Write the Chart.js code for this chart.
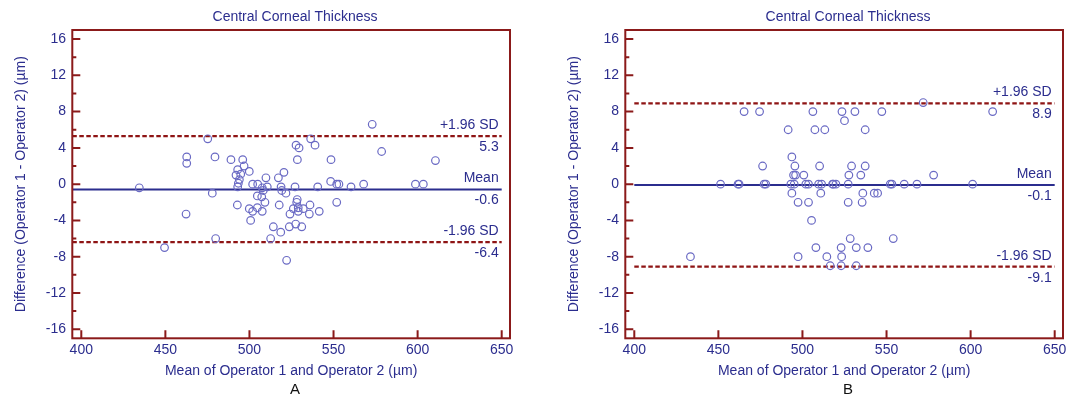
<!DOCTYPE html>
<html>
<head>
<meta charset="utf-8">
<script src="https://cdn.jsdelivr.net/npm/chart.js@4.4.1/dist/chart.umd.min.js"></script>
<style>
  html, body { margin: 0; padding: 0; background: #fff; overflow: hidden; }
  #wrap { position: relative; width: 1077px; height: 399px; overflow: hidden; }
  canvas { position: absolute; top: 0; }
  #chart-a { left: 0; }
  #chart-b { left: 553px; }
</style>
</head>
<body>
<div id="wrap">
  <canvas id="chart-a" width="590" height="399"></canvas>
  <canvas id="chart-b" width="590" height="399"></canvas>
</div>
<script>
const xTicks = [400, 450, 500, 550, 600, 650];
const yTicks = [-16, -12, -8, -4, 0, 4, 8, 12, 16];
const yMinorTicks = [-14, -10, -6, -2, 2, 6, 10, 14];
const limitLabels = ['+1.96 SD', 'Mean', '-1.96 SD'];
const limitsA = [5.3, -0.6, -6.4];
const limitsB = [8.9, -0.1, -9.1];

// panel A: mean of the two operators vs difference
const meanA = [434.5, 449.5, 462.7, 462.7, 462.3, 475.2, 477.9, 479.5, 479.9, 489, 492, 493, 493.4, 493, 492.8,
  494, 494.8, 496, 496.8, 499.9, 499.9, 500.7, 501.9, 501.9, 504.7, 504.7, 504.9, 507.3, 507.6, 507.6,
  508.2, 509.2, 509.8, 510.6, 512.6, 514.2, 517.2, 517.7, 518.6, 518.8, 519.2, 520.5, 521.7, 522.1, 523.7,
  524.1, 526.1, 527.1, 527.5, 527.7, 528.1, 528.4, 528.5, 529, 529, 529.5, 531.1, 532, 535.6, 536,
  536.4, 539, 540.6, 541.5, 548.3, 548.5, 551.9, 551.9, 553.2, 560.4, 567.9, 573, 578.6, 598.7, 603.4, 610.6];
const diffA = [-0.4, -7.0, 3.0, 2.3, -3.3, 5.0, -1.0, 3.0, -6.0, 2.7, 1.0, 1.6, 0.1, -0.3, -2.3,
  0.5, 1.1, 2.7, 2.0, 1.4, -2.7, -4.0, 0, -3.0, -1.3, -2.6, 0, -1.4, -0.4, -3.0,
  -0.7, -2.0, 0.7, -0.3, -6.0, -4.7, 0.7, -2.3, -5.3, -0.3, -0.7, 1.3, -1.0, -8.4, -4.7,
  -3.3, -2.7, -0.3, -4.4, 4.3, -2.0, -1.7, 2.7, -2.6, -3.0, 4.0, -4.7, -2.7, -3.3, -2.3,
  5.0, 4.3, -0.3, -3.0, 0.3, 2.7, 0, -2.0, 0, -0.3, 0, 6.6, 3.6, 0, 0, 2.6];

// panel B
const meanB = [571.8,
  465.3, 474.5, 506.2, 523.5, 531.2, 547.2, 613.1,
  525.0,
  491.5, 507.4, 513.3, 537.3,
  493.7,
  476.3, 495.5, 510.2, 529.2, 537.3,
  494.7, 495.9, 500.8, 527.6, 534.7, 578.0,
  451.3, 461.7, 462.3, 477.2, 478.2, 493.1, 495.1, 502, 503.6, 509.6, 511.4, 517.9, 518.3, 519.9, 527.2, 552.2, 553.2, 560.5, 568.1, 601.2,
  493.7, 510.9, 535.9, 542.7, 544.7,
  497.4, 503.6, 527.2, 535.5,
  505.4,
  528.4, 554,
  508, 523, 532, 538.9,
  433.4, 497.4, 514.5, 523.3,
  516.5, 523, 532];
const diffB = [9,
  8, 8, 8, 8, 8, 8, 8,
  7,
  6, 6, 6, 6,
  3,
  2, 2, 2, 2, 2,
  1, 1, 1, 1, 1, 1,
  0, 0, 0, 0, 0, 0, 0, 0, 0, 0, 0, 0, 0, 0, 0, 0, 0, 0, 0, 0,
  -1, -1, -1, -1, -1,
  -2, -2, -2, -2,
  -4,
  -6, -6,
  -7, -7, -7, -7,
  -8, -8, -8, -8,
  -9, -9, -9];

const NAVY = '#2b2d8e';
const FRAME = '#8b1a1a';
const DASH = '#8e1414';
const POINT = '#6a6ac4';
const FONT = "'Liberation Sans', Arial, sans-serif";

const frameTicks = {
  id: 'frameTicks',
  afterDraw(chart) {
    const { ctx, chartArea: a, scales: { x, y } } = chart;
    ctx.save();
    ctx.strokeStyle = FRAME;
    ctx.lineWidth = 2;
    ctx.beginPath();
    yTicks.forEach(v => {
      const py = y.getPixelForValue(v);
      ctx.moveTo(a.left, py);
      ctx.lineTo(a.left + 8, py);
    });
    yMinorTicks.forEach(v => {
      const py = y.getPixelForValue(v);
      ctx.moveTo(a.left, py);
      ctx.lineTo(a.left + 4, py);
    });
    xTicks.forEach(v => {
      const px = x.getPixelForValue(v);
      ctx.moveTo(px, a.bottom);
      ctx.lineTo(px, a.bottom - 8);
    });
    ctx.stroke();
    ctx.strokeRect(a.left, a.top, a.right - a.left, a.bottom - a.top);
    ctx.restore();
  }
};

const limitText = {
  id: 'limitText',
  afterDatasetsDraw(chart, args, opts) {
    const { ctx, scales: { x, y } } = chart;
    const px = x.getPixelForValue(650) - 3;
    ctx.save();
    ctx.font = '14px ' + FONT;
    ctx.fillStyle = NAVY;
    ctx.textAlign = 'right';
    ctx.textBaseline = 'middle';
    opts.limits.forEach((v, i) => {
      const py = y.getPixelForValue(v);
      ctx.fillText(limitLabels[i], px, py - 11);
      ctx.fillText(v.toFixed(1), px, py + 11);
    });
    ctx.restore();
  }
};

function makeChart(id, means, diffs, limits, lineStart, letter) {
  const points = means.map((m, i) => ({ x: m, y: diffs[i] }));
  const lineSets = limits.map((v, i) => ({
    type: 'line',
    data: [{ x: lineStart, y: v }, { x: 650, y: v }],
    borderColor: i === 1 ? NAVY : DASH,
    borderWidth: i === 1 ? 2 : 2.2,
    borderDash: i === 1 ? [] : [4.5, 2.5],
    pointRadius: 0,
    fill: false
  }));

  return new Chart(document.getElementById(id), {
    type: 'scatter',
    data: {
      datasets: [{
        data: points,
        pointStyle: 'circle',
        pointRadius: 3.8,
        pointHoverRadius: 3.8,
        pointBorderWidth: 1.2,
        pointBorderColor: POINT,
        pointBackgroundColor: 'rgba(0,0,0,0)'
      }, ...lineSets]
    },
    options: {
      responsive: false,
      animation: false,
      events: [],
      layout: { padding: 0 },
      plugins: {
        legend: { display: false },
        tooltip: { enabled: false },
        title: {
          display: true,
          text: 'Central Corneal Thickness',
          color: NAVY,
          font: { family: FONT, size: 14, weight: 'normal' },
          padding: { top: 8.6, bottom: 4.6 }
        },
        subtitle: {
          display: true,
          position: 'bottom',
          text: letter,
          color: '#111',
          font: { family: FONT, size: 15, weight: 'normal' },
          padding: 0
        },
        limitText: { limits: limits }
      },
      scales: {
        x: {
          type: 'linear',
          min: 394.65,
          max: 654.94,
          afterBuildTicks: s => { s.ticks = xTicks.map(v => ({ value: v })); },
          afterFit: s => { s.height = 42.7; },
          grid: { display: false, drawTicks: false },
          border: { display: false },
          ticks: {
            color: NAVY,
            font: { family: FONT, size: 14 },
            padding: 3.3,
            autoSkip: false,
            maxRotation: 0
          },
          title: {
            display: true,
            text: 'Mean of Operator 1 and Operator 2 (µm)',
            color: NAVY,
            font: { family: FONT, size: 14 },
            padding: { top: 0, bottom: 1.1 }
          }
        },
        y: {
          type: 'linear',
          min: -17,
          max: 17,
          afterBuildTicks: s => { s.ticks = yTicks.map(v => ({ value: v })); },
          afterFit: s => { s.width = 72.3; },
          grid: { display: false, drawTicks: false },
          border: { display: false },
          ticks: {
            color: NAVY,
            font: { family: FONT, size: 14 },
            padding: 6.3,
            autoSkip: false
          },
          title: {
            display: true,
            text: 'Difference (Operator 1 - Operator 2) (µm)',
            color: NAVY,
            font: { family: FONT, size: 14 },
            padding: { top: 13, bottom: 0 }
          }
        },
        pad: {
          type: 'linear',
          position: 'right',
          display: true,
          grid: { display: false },
          border: { display: false },
          ticks: { display: false },
          afterFit: s => { s.width = 80; }
        }
      }
    },
    plugins: [frameTicks, limitText]
  });
}

makeChart('chart-a', meanA, diffA, limitsA, 394.65, 'A');
makeChart('chart-b', meanB, diffB, limitsB, 400, 'B');
</script>
</body>
</html>
